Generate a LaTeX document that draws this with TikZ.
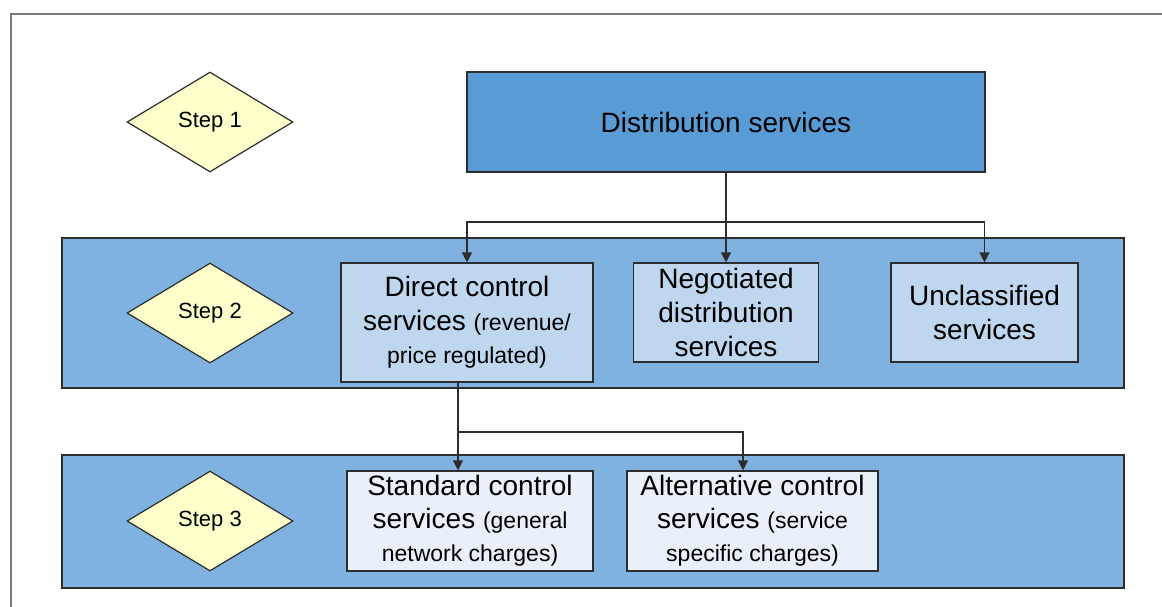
\documentclass[tikz,border=0pt]{standalone}
\usepackage{fontspec}
\setmainfont{Liberation Sans}
\usetikzlibrary{shapes.geometric,arrows.meta,positioning}
\definecolor{topblue}{RGB}{88,155,213}
\definecolor{bandblue}{RGB}{127,178,224}
\definecolor{midblue}{RGB}{190,215,238}
\definecolor{lowblue}{RGB}{233,240,249}
\definecolor{stepyellow}{RGB}{255,255,204}
\definecolor{edgegray}{RGB}{45,45,45}
\definecolor{framegray}{RGB}{125,125,125}
\newcommand{\smalltxt}[1]{{\fontsize{23}{33}\selectfont #1}}
\tikzset{
  stepmark/.style={diamond, draw=edgegray, line width=1.2pt, fill=stepyellow,
    minimum width=166pt, minimum height=100pt, inner sep=0pt,
    font=\fontsize{22}{26}\selectfont},
  band/.style={rectangle, draw=edgegray, line width=1.5pt, fill=bandblue,
    minimum width=1062pt},
  topbox/.style={rectangle, draw=edgegray, line width=1.2pt, fill=topblue,
    minimum width=518pt, minimum height=100pt, font=\fontsize{28}{33.6}\selectfont},
  midbox/.style={rectangle, draw=edgegray, line width=1.2pt, fill=midblue,
    align=center, inner sep=0pt, font=\fontsize{28}{33.6}\selectfont},
  lowbox/.style={rectangle, draw=edgegray, line width=1.2pt, fill=lowblue,
    align=center, inner sep=0pt, minimum height=100pt, font=\fontsize{28}{33}\selectfont},
  flow/.style={draw=edgegray, line width=1.4pt, -{Triangle[length=10pt,width=10pt]}}
}
\begin{document}
\begin{tikzpicture}[x=1pt,y=-1pt]
  \useasboundingbox (0,0) rectangle (1162,606);
  % frame of the page
  \draw[framegray, line width=2pt] (11,640) -- (11,14) -- (1200,14);

  % bands for step 2 and 3
  \node[band, minimum height=150pt] (band2) at (593,313) {};
  \node[band, minimum height=133pt] (band3) at (593,521.5) {};

  % steps
  \node[stepmark] (s1) at (210,122) {Step 1};
  \node[stepmark] (s2) at (210,313) {Step 2};
  \node[stepmark] (s3) at (210,521) {Step 3};

  % step 1
  \node[topbox] (dist) at (726,122) {Distribution services};

  % step 2
  \node[midbox, minimum width=252pt, minimum height=119pt] (direct) at (467,322.5)
    {Direct control\\services \smalltxt{(revenue/}\\\smalltxt{price regulated)}};
  \node[midbox, minimum width=185pt, minimum height=99pt] (negot) at (726,312.5)
    {Negotiated\\distribution\\services};
  \node[midbox, minimum width=187pt, minimum height=99pt] (uncl) at (984.5,312.5)
    {Unclassified\\services};

  % step 3
  \node[lowbox, minimum width=246pt] (std) at (470,521)
    {Standard control\\services \smalltxt{(general}\\\smalltxt{network charges)}};
  \node[lowbox, minimum width=251pt] (alt) at (752.5,521)
    {Alternative control\\services \smalltxt{(service}\\\smalltxt{specific charges)}};

  % connectors
  \coordinate (split1) at (726,222);
  \coordinate (split2) at (458,432);
  \draw[flow, line width=1.8pt] (dist.south) -- (negot.north);
  \draw[flow] (split1) -| (direct.north);
  \draw[flow] (split1) -| (uncl.north);
  \draw[flow] (direct.south -| split2) -- (std.north -| split2);
  \draw[flow] (split2) -| ([xshift=-9.5pt]alt.north);
\end{tikzpicture}
\end{document}
